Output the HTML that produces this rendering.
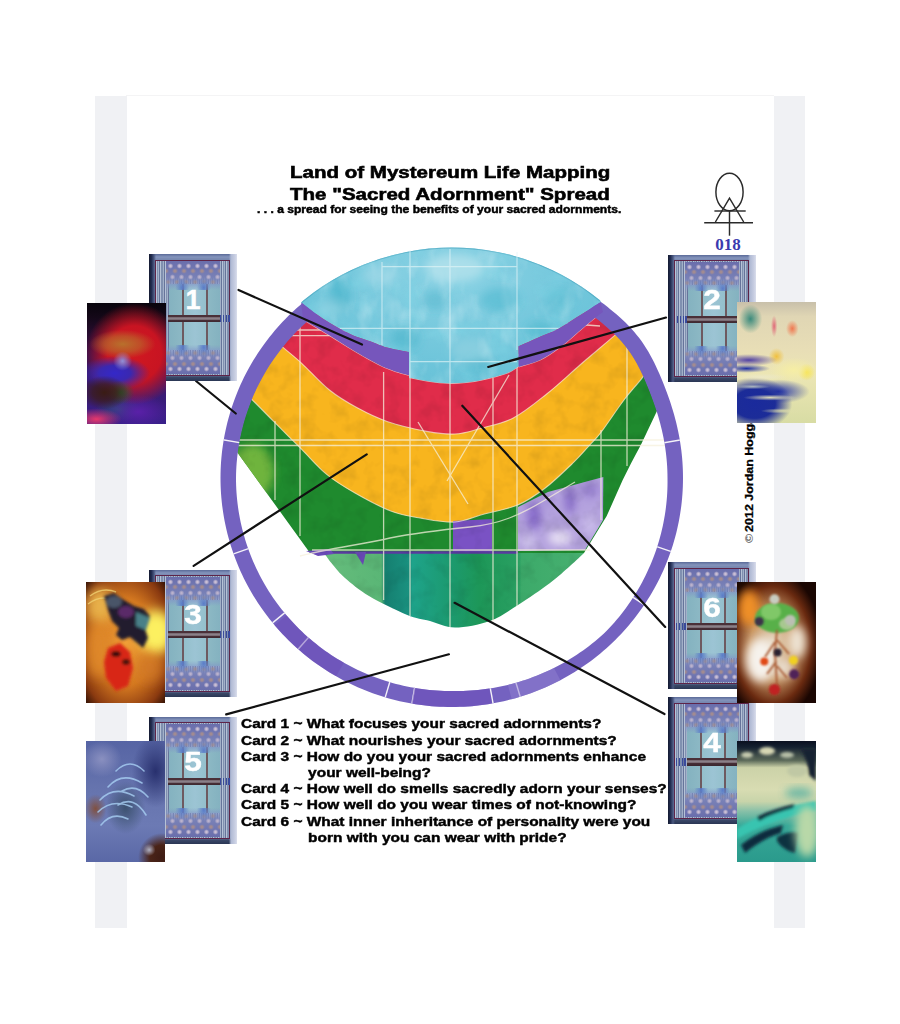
<!DOCTYPE html>
<html><head><meta charset="utf-8">
<style>
*{margin:0;padding:0;box-sizing:border-box}
html,body{width:900px;height:1024px;background:#fff;overflow:hidden;position:relative;font-family:"Liberation Sans",sans-serif}
.abs{position:absolute}
.strip{position:absolute;top:95.5px;height:832.8px;width:31.3px;background:#f0f1f4}
#art{position:absolute;left:0;top:0;width:900px;height:1024px}
.t1{position:absolute;font-weight:bold;color:#000;white-space:nowrap;-webkit-text-stroke:0.6px #000}
.q{position:absolute;left:240.5px;top:716.4px;font-weight:bold;font-size:13.5px;line-height:16.2px;color:#000;-webkit-text-stroke:0.45px #000;white-space:pre;transform-origin:0 0;transform:scaleX(1.145)}
.q .ind{padding-left:58.6px}
.cb{position:absolute;width:88px;height:127px;overflow:hidden;
 background:linear-gradient(90deg,#141a30 0,#222c50 2.5px,#4a5880 5px,rgba(120,136,176,0) 7px,rgba(120,136,176,0) 80px,#b0bad4 82px,#c8cee2 86px,#dadeec 88px),
 linear-gradient(180deg,#5a6a98 0,#8494bc 3px,#7888b0 5px,#7888b0 121px,#3a4868 123px,#2a3654 127px)}
.cb .fr{position:absolute;left:6px;top:5.5px;width:75px;height:116.5px;border:1.6px solid #5e2448;
 background:repeating-linear-gradient(90deg,#b6c2d6 0,#b6c2d6 1px,#8090b0 1px,#8090b0 2.3px,#a2b0c8 2.3px,#a2b0c8 3.4px,#66749a 3.4px,#66749a 4.4px)}
.cb .mid{position:absolute;left:19.5px;width:51px;top:30px;height:66px;
 background:linear-gradient(90deg,#84b2c0 0,#8cb8c4 12.8px,#6e5a60 12.8px,#6e5a60 14.8px,#94c0cc 15px,#9cc4d4 26px,#94c0cc 37px,#6e5a60 37.3px,#6e5a60 39.3px,#8cb8c4 39.5px,#84b2c0 51px)}
.cb .orn{position:absolute;left:17px;width:54px;height:29px;
 background:radial-gradient(ellipse 7px 9px at 30% 92%,#5a7cc8 0,rgba(90,124,200,0) 100%),radial-gradient(ellipse 7px 9px at 70% 92%,#5a7cc8 0,rgba(90,124,200,0) 100%),
 radial-gradient(circle at 50% 50%,rgba(226,210,222,0.9) 0,rgba(226,210,222,0.6) 1.4px,rgba(226,210,222,0) 2.8px) 0 1px/9px 8px repeat-x,
 radial-gradient(circle at 50% 50%,rgba(180,146,132,0.9) 0,rgba(180,146,132,0.6) 1.4px,rgba(180,146,132,0) 2.8px) 4.5px 6px/9px 8px repeat-x,
 radial-gradient(circle at 50% 50%,rgba(216,200,214,0.8) 0,rgba(216,200,214,0.5) 1.4px,rgba(216,200,214,0) 2.8px) 2px 12px/9px 8px repeat-x,
 radial-gradient(circle at 50% 50%,rgba(170,140,130,0.7) 0,rgba(170,140,130,0.4) 1.4px,rgba(170,140,130,0) 2.8px) 6.5px 17px/9px 8px repeat-x,
 linear-gradient(180deg,#6a6eac 0,#7880b6 55%,rgba(130,148,200,0.6) 82%,rgba(130,148,200,0) 100%)}
.cb .orn.top{top:7px}
.cb .orn.bot{top:91px;transform:scaleY(-1)}
.cb .bar{position:absolute;left:19.4px;width:51.2px;top:61.3px;height:7.2px;
 background:linear-gradient(180deg,#4a3038 0,#4a3038 2.2px,#8a8088 2.6px,#8a8088 4.4px,#4a3038 4.8px,#3c2830 7.2px)}
.cb .dots{position:absolute;left:70.6px;width:10px;top:61.3px;height:7.2px;
 background:repeating-linear-gradient(90deg,#3a4a9c 0,#3a4a9c 1.2px,rgba(0,0,0,0) 1.2px,rgba(0,0,0,0) 2.8px)}
.cb .n{position:absolute;left:0;right:0;top:29.6px;text-align:center;color:#fff;font-weight:bold;font-size:27px;line-height:32px;-webkit-text-stroke:0.4px #fff;transform:scaleX(1.17)}
.ci{position:absolute;width:79px;height:121px;overflow:hidden}
</style></head><body>
<div class="abs" style="left:126px;top:95px;width:648px;height:1px;background:#f4f4f5"></div>
<div class="strip" style="left:95.3px"></div>
<div class="strip" style="left:773.5px"></div>

<svg id="art" viewBox="0 0 900 1024">
 <g id="mandala"><defs>
<clipPath id="cin"><path d="M668.10 478.00 L668.09 485.48 L667.81 492.95 L667.27 500.42 L666.47 507.86 L665.40 515.28 L664.08 522.66 L662.49 530.00 L660.64 537.28 L658.54 544.49 L656.18 551.64 L653.57 558.70 L650.71 565.67 L647.62 572.55 L644.30 579.32 L640.74 585.99 L636.94 592.53 L632.92 598.94 L628.66 605.21 L624.19 611.34 L619.49 617.31 L614.59 623.12 L609.48 628.76 L604.07 634.11 L598.37 639.17 L592.50 644.02 L586.47 648.66 L580.28 653.09 L573.95 657.30 L567.47 661.28 L560.86 665.04 L554.13 668.56 L547.28 671.85 L540.33 674.89 L533.27 677.68 L526.12 680.22 L518.90 682.52 L511.60 684.56 L504.24 686.34 L496.83 687.87 L489.37 689.14 L481.88 690.16 L474.36 690.91 L466.83 691.40 L459.29 691.63 L451.75 691.60 L444.22 691.49 L436.69 691.12 L429.18 690.50 L421.70 689.61 L414.25 688.46 L406.84 687.06 L399.49 685.41 L392.20 683.50 L384.99 681.34 L377.85 678.93 L370.80 676.27 L363.85 673.38 L357.00 670.24 L350.27 666.87 L343.66 663.27 L337.18 659.44 L330.84 655.40 L324.64 651.13 L318.60 646.65 L312.72 641.97 L307.01 637.08 L301.47 632.00 L296.12 626.73 L290.97 621.26 L286.02 615.62 L281.26 609.81 L276.72 603.84 L272.39 597.72 L268.27 591.46 L264.39 585.05 L260.72 578.51 L257.30 571.86 L254.10 565.08 L251.15 558.20 L248.45 551.23 L245.99 544.16 L243.78 537.01 L241.83 529.80 L240.13 522.51 L238.69 515.18 L237.51 507.80 L236.59 500.38 L235.93 492.93 L235.53 485.47 L235.40 478.00 L235.59 470.53 L236.05 463.07 L236.76 455.64 L237.74 448.24 L238.98 440.87 L240.48 433.56 L242.23 426.31 L244.24 419.12 L246.50 412.01 L249.01 404.98 L251.77 398.04 L254.76 391.21 L258.00 384.49 L261.47 377.88 L265.16 371.40 L269.09 365.05 L273.23 358.85 L277.59 352.79 L282.16 346.89 L286.94 341.15 L291.91 335.58 L297.07 330.19 L302.42 324.98 L307.95 319.96 L313.65 315.14 L319.44 310.43 L325.41 305.92 L331.52 301.62 L337.79 297.54 L344.20 293.67 L350.74 290.02 L357.41 286.60 L364.20 283.41 L371.10 280.46 L378.10 277.75 L385.19 275.28 L392.36 273.06 L399.62 271.08 L406.93 269.36 L414.31 267.89 L421.74 266.68 L429.20 265.72 L436.70 265.02 L444.22 264.58 L451.75 264.40 L459.28 264.53 L466.81 264.92 L474.31 265.57 L481.79 266.48 L489.23 267.65 L496.63 269.07 L503.97 270.74 L511.25 272.67 L518.45 274.85 L525.58 277.28 L532.61 279.95 L539.55 282.86 L546.38 286.01 L553.09 289.38 L559.70 292.98 L566.18 296.78 L572.55 300.77 L578.81 304.93 L584.98 309.25 L591.05 313.71 L597.04 318.31 L602.94 323.06 L608.70 328.00 L614.27 333.17 L619.59 338.61 L624.60 344.34 L629.23 350.38 L633.45 356.70 L637.30 363.25 L640.81 369.97 L644.05 376.81 L647.07 383.72 L649.91 390.69 L652.60 397.70 L655.12 404.75 L657.47 411.85 L659.61 419.02 L661.55 426.24 L663.25 433.51 L664.70 440.84 L665.90 448.22 L666.84 455.63 L667.52 463.07 L667.94 470.53 Z"/></clipPath>
<clipPath id="cring"><path d="M315.82 292.74 L312.58 295.11 L309.38 297.55 L306.22 300.03 L303.11 302.58 L300.04 305.17 L297.01 307.82 L294.04 310.52 L291.11 313.27 L288.23 316.07 L285.40 318.92 L282.62 321.82 L279.90 324.77 L277.22 327.76 L274.60 330.80 L272.03 333.89 L269.52 337.01 L267.07 340.18 L264.66 343.40 L262.32 346.65 L260.04 349.94 L257.81 353.28 L255.64 356.65 L253.53 360.06 L251.48 363.50 L249.49 366.98 L247.57 370.49 L245.70 374.04 L243.90 377.61 L242.17 381.22 L240.49 384.86 L238.88 388.52 L237.34 392.22 L235.86 395.93 L234.45 399.68 L233.10 403.44 L231.82 407.24 L230.60 411.05 L229.46 414.88 L228.38 418.73 L227.37 422.60 L226.43 426.49 L225.55 430.39 L224.75 434.30 L224.01 438.23 L223.35 442.18 L222.75 446.13 L222.22 450.09 L221.77 454.06 L221.38 458.04 L221.06 462.03 L220.82 466.02 L220.64 470.01 L220.54 474.00 L220.50 478.00 L220.54 482.00 L220.64 485.99 L220.82 489.98 L221.06 493.97 L221.38 497.96 L221.77 501.94 L222.22 505.91 L222.75 509.87 L223.35 513.82 L224.01 517.77 L224.75 521.70 L225.55 525.61 L226.43 529.51 L227.37 533.40 L228.38 537.27 L229.46 541.12 L230.60 544.95 L231.82 548.76 L233.10 552.56 L234.45 556.32 L235.86 560.07 L237.34 563.78 L238.88 567.48 L240.49 571.14 L242.17 574.78 L243.90 578.39 L245.70 581.96 L247.57 585.51 L249.49 589.02 L251.48 592.50 L253.53 595.94 L255.64 599.35 L257.81 602.72 L260.04 606.06 L262.32 609.35 L264.66 612.60 L267.07 615.82 L269.52 618.99 L272.03 622.11 L274.60 625.20 L277.22 628.24 L279.90 631.23 L282.62 634.18 L285.40 637.08 L288.23 639.93 L291.11 642.73 L294.04 645.48 L297.01 648.18 L300.04 650.83 L303.11 653.42 L306.22 655.97 L309.38 658.45 L312.58 660.89 L315.82 663.26 L319.11 665.59 L322.44 667.85 L325.80 670.06 L329.21 672.20 L332.65 674.29 L336.13 676.32 L339.64 678.29 L343.18 680.19 L346.76 682.04 L350.38 683.82 L354.02 685.54 L357.69 687.20 L361.39 688.80 L365.12 690.33 L368.88 691.79 L372.66 693.19 L376.46 694.52 L380.29 695.79 L384.14 696.99 L388.01 698.13 L391.90 699.20 L395.81 700.20 L399.73 701.13 L403.67 702.00 L407.63 702.79 L411.59 703.52 L415.57 704.18 L419.57 704.77 L423.57 705.29 L427.58 705.75 L431.60 706.13 L435.62 706.44 L439.65 706.69 L443.68 706.86 L447.71 706.97 L451.75 707.00 L455.79 706.97 L459.82 706.86 L463.85 706.69 L467.88 706.44 L471.90 706.13 L475.92 705.75 L479.93 705.29 L483.93 704.77 L487.93 704.18 L491.91 703.52 L495.87 702.79 L499.83 702.00 L503.77 701.13 L507.69 700.20 L511.60 699.20 L515.49 698.13 L519.36 696.99 L523.21 695.79 L527.04 694.52 L530.84 693.19 L534.62 691.79 L538.38 690.33 L542.11 688.80 L545.81 687.20 L549.48 685.54 L553.12 683.82 L556.74 682.04 L560.32 680.19 L563.86 678.29 L567.38 676.32 L570.85 674.29 L574.29 672.20 L577.70 670.06 L581.06 667.85 L584.39 665.59 L587.68 663.26 L590.92 660.89 L594.12 658.45 L597.28 655.97 L600.39 653.42 L603.46 650.83 L606.49 648.18 L609.46 645.48 L612.39 642.73 L615.27 639.93 L618.10 637.08 L620.88 634.18 L623.60 631.23 L626.28 628.24 L628.90 625.20 L631.47 622.11 L633.98 618.99 L636.43 615.82 L638.84 612.60 L641.18 609.35 L643.46 606.06 L645.69 602.72 L647.86 599.35 L649.97 595.94 L652.02 592.50 L654.01 589.02 L655.93 585.51 L657.80 581.96 L659.60 578.39 L661.33 574.78 L663.01 571.14 L664.62 567.48 L666.16 563.78 L667.64 560.07 L669.05 556.32 L670.40 552.56 L671.68 548.76 L672.90 544.95 L674.04 541.12 L675.12 537.27 L676.13 533.40 L677.07 529.51 L677.95 525.61 L678.75 521.70 L679.49 517.77 L680.15 513.82 L680.75 509.87 L681.28 505.91 L681.73 501.94 L682.12 497.96 L682.44 493.97 L682.68 489.98 L682.86 485.99 L682.96 482.00 L683.00 478.00 L682.96 474.00 L682.86 470.01 L682.68 466.02 L682.44 462.03 L682.12 458.04 L681.73 454.06 L681.28 450.09 L680.75 446.13 L680.16 442.18 L679.50 438.23 L678.76 434.30 L677.97 430.38 L677.10 426.48 L676.17 422.59 L675.18 418.71 L674.13 414.85 L673.02 411.01 L671.85 407.18 L670.63 403.37 L669.36 399.57 L668.03 395.78 L666.67 392.01 L665.25 388.25 L663.80 384.51 L662.30 380.77 L660.75 377.05 L659.16 373.34 L657.51 369.65 L655.81 365.98 L654.04 362.33 L652.20 358.72 L650.28 355.14 L648.26 351.61 L646.16 348.13 L643.95 344.71 L641.64 341.36 L639.23 338.08 L636.71 334.88 L634.10 331.75 L631.39 328.71 L628.59 325.75 L625.72 322.86 L622.78 320.05 L619.78 317.30 L616.73 314.61 L613.63 311.98 L610.51 309.40 L607.35 306.86 L604.16 304.37 L600.95 301.91 L597.72 299.50 L594.46 297.12 L591.17 294.78 L587.86 292.48 L578.46 305.42 L581.54 307.55 L584.61 309.72 L587.65 311.93 L590.67 314.17 L593.67 316.44 L596.64 318.75 L599.59 321.10 L602.52 323.49 L605.41 325.93 L608.27 328.42 L611.07 330.96 L613.83 333.57 L616.52 336.25 L619.13 339.00 L621.67 341.82 L624.12 344.71 L626.48 347.68 L628.74 350.73 L630.90 353.85 L632.96 357.03 L634.92 360.27 L636.79 363.57 L638.58 366.90 L640.29 370.27 L641.94 373.67 L643.52 377.09 L645.05 380.53 L646.53 383.99 L647.97 387.45 L649.36 390.93 L650.72 394.42 L652.04 397.92 L653.32 401.43 L654.56 404.95 L655.75 408.49 L656.89 412.04 L657.99 415.60 L659.04 419.18 L660.03 422.77 L660.96 426.38 L661.84 430.00 L662.66 433.64 L663.41 437.29 L664.11 440.95 L664.74 444.62 L665.30 448.30 L665.81 451.99 L666.24 455.69 L666.62 459.40 L666.92 463.11 L667.17 466.83 L667.34 470.55 L667.45 474.27 L667.50 478.00 L667.53 481.73 L667.49 485.46 L667.38 489.18 L667.21 492.91 L666.98 496.63 L666.68 500.35 L666.31 504.07 L665.88 507.78 L665.38 511.48 L664.81 515.18 L664.18 518.86 L663.49 522.54 L662.73 526.20 L661.91 529.85 L661.02 533.49 L660.07 537.11 L659.05 540.72 L657.97 544.31 L656.82 547.88 L655.62 551.43 L654.35 554.96 L653.01 558.47 L651.62 561.96 L650.16 565.42 L648.65 568.86 L647.08 572.28 L645.45 575.68 L643.77 579.04 L642.02 582.38 L640.22 585.69 L638.36 588.96 L636.43 592.21 L634.45 595.42 L632.42 598.60 L630.33 601.75 L628.18 604.86 L625.97 607.93 L623.71 610.97 L621.40 613.96 L619.03 616.92 L616.62 619.84 L614.15 622.72 L611.62 625.55 L609.05 628.34 L606.43 631.09 L603.65 633.68 L600.83 636.23 L597.97 638.72 L595.07 641.17 L592.12 643.56 L589.13 645.90 L586.10 648.19 L583.04 650.43 L579.93 652.61 L576.79 654.73 L573.61 656.80 L570.40 658.82 L567.15 660.78 L563.87 662.68 L560.56 664.52 L557.22 666.31 L553.85 668.03 L550.45 669.70 L547.02 671.31 L543.56 672.86 L540.08 674.34 L536.57 675.76 L533.04 677.12 L529.49 678.42 L525.92 679.66 L522.32 680.83 L518.71 681.94 L515.08 682.99 L511.43 683.98 L507.77 684.90 L504.09 685.76 L500.40 686.55 L496.70 687.28 L492.99 687.95 L489.27 688.55 L485.54 689.09 L481.80 689.56 L478.05 689.97 L474.30 690.31 L470.55 690.59 L466.79 690.80 L463.03 690.95 L459.27 691.03 L455.51 691.05 L451.75 691.00 L447.99 690.98 L444.24 690.89 L440.48 690.74 L436.73 690.53 L432.98 690.24 L429.24 689.90 L425.51 689.49 L421.78 689.02 L418.06 688.48 L414.35 687.87 L410.66 687.21 L406.97 686.48 L403.30 685.68 L399.64 684.82 L396.00 683.90 L392.37 682.92 L388.76 681.87 L385.17 680.77 L381.60 679.60 L378.05 678.36 L374.53 677.07 L371.02 675.72 L367.55 674.30 L364.09 672.83 L360.66 671.30 L357.26 669.70 L353.89 668.05 L350.55 666.34 L347.24 664.58 L343.96 662.75 L340.71 660.87 L337.50 658.94 L334.32 656.94 L331.17 654.90 L328.06 652.80 L324.99 650.64 L321.96 648.44 L318.97 646.18 L316.02 643.87 L313.10 641.51 L310.23 639.10 L307.41 636.64 L304.62 634.13 L301.89 631.57 L299.19 628.97 L296.55 626.31 L293.96 623.61 L291.42 620.86 L288.92 618.07 L286.48 615.24 L284.08 612.36 L281.74 609.44 L279.44 606.49 L277.20 603.49 L275.02 600.46 L272.89 597.39 L270.81 594.28 L268.78 591.14 L266.82 587.96 L264.91 584.75 L263.05 581.51 L261.25 578.23 L259.52 574.93 L257.84 571.59 L256.21 568.23 L254.65 564.84 L253.15 561.42 L251.71 557.98 L250.33 554.51 L249.01 551.02 L247.75 547.51 L246.56 543.98 L245.43 540.42 L244.36 536.85 L243.35 533.26 L242.41 529.65 L241.53 526.03 L240.71 522.39 L239.96 518.74 L239.28 515.07 L238.66 511.40 L238.10 507.71 L237.61 504.02 L237.18 500.32 L236.82 496.61 L236.53 492.89 L236.30 489.17 L236.13 485.45 L236.03 481.73 L236.00 478.00 L236.06 474.27 L236.19 470.55 L236.39 466.83 L236.65 463.12 L236.97 459.41 L237.36 455.70 L237.82 452.01 L238.34 448.32 L238.92 444.64 L239.57 440.98 L240.29 437.33 L241.07 433.69 L241.91 430.06 L242.82 426.45 L243.79 422.86 L244.82 419.28 L245.91 415.73 L247.07 412.19 L248.29 408.68 L249.58 405.18 L250.92 401.71 L252.32 398.27 L253.79 394.85 L255.31 391.45 L256.89 388.09 L258.54 384.75 L260.24 381.44 L262.00 378.16 L263.81 374.91 L265.68 371.70 L267.61 368.52 L269.60 365.37 L271.64 362.26 L273.73 359.18 L275.88 356.14 L278.08 353.14 L280.33 350.18 L282.64 347.26 L284.99 344.38 L287.40 341.54 L289.85 338.74 L292.35 335.98 L294.90 333.27 L297.50 330.61 L300.15 327.99 L302.84 325.41 L305.57 322.89 L308.35 320.41 L311.17 317.98 L314.03 315.60 L316.90 313.23 L319.81 310.90 L322.77 308.63 L325.76 306.41 Z"/></clipPath>
<clipPath id="cout"><ellipse cx="451.75" cy="478.00" rx="232.50" ry="230.50"/></clipPath>
<radialGradient id="gb1" cx="50%" cy="40%" r="60%"><stop offset="0" stop-color="#8ad2e4"/><stop offset="1" stop-color="#68c2d8"/></radialGradient>
<linearGradient id="gbowl" x1="324" y1="0" x2="584" y2="0" gradientUnits="userSpaceOnUse"><stop offset="0" stop-color="#66bd7c"/><stop offset="0.22" stop-color="#5ab676"/><stop offset="0.235" stop-color="#157f70"/><stop offset="0.33" stop-color="#1a9280"/><stop offset="0.34" stop-color="#1ea38a"/><stop offset="0.48" stop-color="#1c9a70"/><stop offset="0.6" stop-color="#1d9758"/><stop offset="0.75" stop-color="#2aa062"/><stop offset="0.76" stop-color="#3caa6a"/><stop offset="1" stop-color="#48b070"/></linearGradient>
<radialGradient id="glav" cx="0.45" cy="0.6" r="0.7"><stop offset="0" stop-color="#d8ccf0"/><stop offset="0.5" stop-color="#b6a0e2"/><stop offset="1" stop-color="#8a68cc"/></radialGradient>
<filter id="blur2" x="-50%" y="-50%" width="200%" height="200%"><feGaussianBlur stdDeviation="4"/></filter>
<clipPath id="cgreen"><path d="M230 380 L237 452 L310 553 L584 553 L606.7 516 L622.7 480 L630.7 464 L641.3 444 L656 413 L662 400 L690 360 L690 300 L230 300 Z"/></clipPath>
<clipPath id="cblue"><path d="M301.2 302.6 C304.9 305.3 315.2 313.8 323.4 319.0 C331.5 324.2 341.8 330.2 350.1 334.1 C358.4 338.0 367.2 340.3 373.3 342.5 C379.4 344.7 380.8 345.9 386.7 347.5 C392.6 349.1 405.3 351.2 409.0 352.0 L409 377.5 C412.5 378.2 423.5 380.5 430.0 381.5 C436.5 382.5 442.0 383.1 448.0 383.3 C454.0 383.5 460.3 383.1 466.0 382.5 C471.7 381.9 475.2 381.5 482.0 380.0 C488.8 378.5 500.5 375.6 506.7 373.3 C512.9 371.0 517.0 367.2 519.0 366.0 L518.6 346.3 C522.3 344.7 533.9 339.6 540.6 336.6 C547.3 333.7 552.8 331.9 558.9 328.6 C565.0 325.3 571.9 320.4 577.2 317.0 C582.5 313.6 586.8 310.8 590.7 308.4 C594.6 305.9 598.8 303.3 600.4 302.3 L600.4 200 L301.2 200 Z"/></clipPath>
<filter id="blur3" x="-20%" y="-20%" width="140%" height="140%"><feGaussianBlur stdDeviation="5"/></filter>
<clipPath id="clav"><path d="M518 507 L548 492 L603.3 477 L603 520 L585 550 L518 551 Z"/></clipPath>
<filter id="wcb" x="0" y="0" width="100%" height="100%"><feTurbulence type="fractalNoise" baseFrequency="0.035 0.05" numOctaves="3" seed="4"/><feColorMatrix type="matrix" values="0 0 0 0 0.22  0 0 0 0 0.66  0 0 0 0 0.78  2.2 0 0 0 -1.0"/></filter>
<filter id="wcw" x="0" y="0" width="100%" height="100%"><feTurbulence type="fractalNoise" baseFrequency="0.05 0.03" numOctaves="3" seed="9"/><feColorMatrix type="matrix" values="0 0 0 0 0.82  0 0 0 0 0.94  0 0 0 0 0.97  2.0 0 0 0 -0.95"/></filter>
<filter id="wcd" x="0" y="0" width="100%" height="100%"><feTurbulence type="fractalNoise" baseFrequency="0.06" numOctaves="3" seed="2"/><feColorMatrix type="matrix" values="0 0 0 0 0  0 0 0 0 0  0 0 0 0 0  1.6 0 0 0 -0.7"/></filter>
<clipPath id="ccol"><path d="M230 380 L237 452 L310 553 L584 553 L606.7 516 L622.7 480 L630.7 464 L641.3 444 L656 413 L662 400 L690 360 L690 300 L230 300 Z"/><path d="M324 553 C325.5 555.0 329.5 560.8 333.0 565.0 C336.5 569.2 339.0 572.8 345.0 578.0 C351.0 583.2 358.7 589.9 369.0 596.0 C379.3 602.1 396.5 610.5 406.7 614.7 C416.9 618.9 421.9 618.9 430.0 621.0 C438.1 623.1 445.0 627.5 455.0 627.5 C465.0 627.5 479.5 624.8 490.0 621.0 C500.5 617.2 508.0 611.3 518.0 605.0 C528.0 598.7 541.3 589.5 550.0 583.0 C558.7 576.5 564.3 571.0 570.0 566.0 C575.7 561.0 581.7 555.2 584.0 553.0 Z"/></clipPath>
</defs>
<g clip-path="url(#cin)">
<path d="M230 380 L237 452 L310 553 L584 553 L606.7 516 L622.7 480 L630.7 464 L641.3 444 L656 413 L662 400 L690 360 L690 300 L230 300 Z" fill="#1f8a2e"/>
<path d="M240.0 390.0 C241.9 391.6 246.0 394.1 251.7 399.4 C257.3 404.7 265.6 413.4 273.9 421.7 C282.2 430.0 292.9 440.6 301.7 449.4 C310.5 458.2 317.8 467.1 326.7 474.4 C335.6 481.7 344.3 486.9 355.0 493.0 C365.7 499.1 379.9 506.8 390.7 511.0 C401.5 515.2 409.3 516.2 420.0 518.0 C430.7 519.8 444.3 522.7 455.0 522.0 C465.7 521.3 473.9 516.8 484.4 514.0 C494.9 511.2 507.6 509.3 517.8 505.0 C527.9 500.7 536.0 495.1 545.3 488.0 C554.5 480.9 565.7 470.0 573.3 462.7 C580.9 455.4 586.0 449.1 590.7 444.0 C595.4 438.9 595.8 439.3 601.3 432.0 C606.8 424.7 617.2 409.0 624.0 400.0 C630.8 391.0 637.5 384.1 642.2 377.8 C646.9 371.5 650.4 364.6 652.0 362.0 L652.0 200.0 L240.0 200.0 Z" fill="#f8b51e"/>
<path d="M265.0 330.0 C267.6 332.6 274.7 339.8 280.8 345.3 C286.9 350.9 293.6 355.9 301.7 363.3 C309.8 370.8 320.1 382.6 329.4 390.0 C338.6 397.4 347.5 402.5 357.2 407.8 C366.9 413.1 376.2 417.8 387.8 421.7 C399.4 425.6 415.5 429.3 426.7 431.4 C437.9 433.4 446.1 434.5 455.0 434.0 C463.9 433.5 470.3 431.2 480.0 428.5 C489.7 425.8 502.2 423.8 513.3 418.0 C524.4 412.2 535.6 402.8 546.7 394.0 C557.8 385.2 568.9 374.6 580.0 365.0 C591.1 355.4 605.0 343.9 613.3 336.7 C621.6 329.5 627.2 324.4 630.0 322.0 L630.0 200.0 L265.0 200.0 Z" fill="#e02c4a"/>
<path d="M324 553 C325.5 555.0 329.5 560.8 333.0 565.0 C336.5 569.2 339.0 572.8 345.0 578.0 C351.0 583.2 358.7 589.9 369.0 596.0 C379.3 602.1 396.5 610.5 406.7 614.7 C416.9 618.9 421.9 618.9 430.0 621.0 C438.1 623.1 445.0 627.5 455.0 627.5 C465.0 627.5 479.5 624.8 490.0 621.0 C500.5 617.2 508.0 611.3 518.0 605.0 C528.0 598.7 541.3 589.5 550.0 583.0 C558.7 576.5 564.3 571.0 570.0 566.0 C575.7 561.0 581.7 555.2 584.0 553.0 Z" fill="url(#gbowl)"/>
<g clip-path="url(#cgreen)"><ellipse cx="252" cy="472" rx="22" ry="28" fill="#78b840" opacity="0.9" filter="url(#blur2)"/></g>
<path d="M453 521 L492 519 L492 552 L453 552 Z" fill="#7a52c4"/>
<path d="M518 507 L548 492 L603.3 477 L603 520 L585 550 L518 551 Z" fill="#b4a2de"/>
<g clip-path="url(#clav)" filter="url(#blur2)">
<ellipse cx="534" cy="516" rx="7" ry="14" fill="#7858c4" opacity="0.75"/>
<ellipse cx="570" cy="500" rx="5" ry="14" fill="#7454c0" opacity="0.70"/>
<ellipse cx="590" cy="490" rx="10" ry="8" fill="#8a70cc" opacity="0.60"/>
<ellipse cx="560" cy="538" rx="12" ry="7" fill="#ece6f6" opacity="0.90"/>
<ellipse cx="528" cy="542" rx="8" ry="6" fill="#d8d0f0" opacity="0.80"/>
<ellipse cx="590" cy="525" rx="8" ry="10" fill="#d0c4ee" opacity="0.70"/>
<ellipse cx="548" cy="500" rx="6" ry="6" fill="#9a84d4" opacity="0.60"/>
</g>
<path d="M312 552.5 L518 552.5" stroke="#5a3aa0" stroke-width="2.5"/>
<path d="M306 551 L330 549 L334 554 L318 556 Z M355 552 L366 552 L363 565 Z" fill="#6a4ab8"/>
<g fill="none" stroke="#fbeede" stroke-width="1.1" opacity="0.7">
<path d="M265.0 330.0 C267.6 332.6 274.7 339.8 280.8 345.3 C286.9 350.9 293.6 355.9 301.7 363.3 C309.8 370.8 320.1 382.6 329.4 390.0 C338.6 397.4 347.5 402.5 357.2 407.8 C366.9 413.1 376.2 417.8 387.8 421.7 C399.4 425.6 415.5 429.3 426.7 431.4 C437.9 433.4 446.1 434.5 455.0 434.0 C463.9 433.5 470.3 431.2 480.0 428.5 C489.7 425.8 502.2 423.8 513.3 418.0 C524.4 412.2 535.6 402.8 546.7 394.0 C557.8 385.2 568.9 374.6 580.0 365.0 C591.1 355.4 605.0 343.9 613.3 336.7 C621.6 329.5 627.2 324.4 630.0 322.0"/>
<path d="M240.0 390.0 C241.9 391.6 246.0 394.1 251.7 399.4 C257.3 404.7 265.6 413.4 273.9 421.7 C282.2 430.0 292.9 440.6 301.7 449.4 C310.5 458.2 317.8 467.1 326.7 474.4 C335.6 481.7 344.3 486.9 355.0 493.0 C365.7 499.1 379.9 506.8 390.7 511.0 C401.5 515.2 409.3 516.2 420.0 518.0 C430.7 519.8 444.3 522.7 455.0 522.0 C465.7 521.3 473.9 516.8 484.4 514.0 C494.9 511.2 507.6 509.3 517.8 505.0 C527.9 500.7 536.0 495.1 545.3 488.0 C554.5 480.9 565.7 470.0 573.3 462.7 C580.9 455.4 586.0 449.1 590.7 444.0 C595.4 438.9 595.8 439.3 601.3 432.0 C606.8 424.7 617.2 409.0 624.0 400.0 C630.8 391.0 637.5 384.1 642.2 377.8 C646.9 371.5 650.4 364.6 652.0 362.0"/>
<path d="M303.0 319.5 C307.3 322.1 320.5 329.9 328.8 335.0 C337.1 340.1 344.3 345.1 352.8 350.1 C361.3 355.2 373.2 361.9 380.0 365.3 C386.8 368.7 388.5 369.0 393.3 370.7 C398.1 372.4 406.4 374.5 409.0 375.3"/>
<path d="M518.6 367.0 C522.3 365.8 533.5 363.2 540.6 359.8 C547.7 356.4 555.0 351.0 561.3 346.3 C567.6 341.6 573.2 336.2 578.5 331.7 C583.8 327.2 589.0 322.7 593.1 319.4 C597.2 316.1 601.4 313.2 603.0 312.0"/>
<path d="M409.0 377.5 C412.5 378.2 423.5 380.5 430.0 381.5 C436.5 382.5 442.0 383.1 448.0 383.3 C454.0 383.5 460.3 383.1 466.0 382.5 C471.7 381.9 475.2 381.5 482.0 380.0 C488.8 378.5 500.5 375.6 506.7 373.3 C512.9 371.0 517.0 367.2 519.0 366.0"/>
</g>
<g clip-path="url(#ccol)"><rect x="220" y="300" width="470" height="340" filter="url(#wcd)" opacity="0.12"/></g>
<g stroke="#f6f0dc" stroke-width="1.3" opacity="0.75" fill="none"><line x1="300.0" y1="318.0" x2="300.0" y2="536.0"/><line x1="275.0" y1="421.0" x2="275.0" y2="500.0"/><line x1="383.6" y1="372.0" x2="383.6" y2="600.0"/><line x1="410.0" y1="250.0" x2="410.0" y2="616.0"/><line x1="450.0" y1="250.0" x2="450.0" y2="627.0"/><line x1="493.0" y1="378.0" x2="493.0" y2="622.0"/><line x1="517.0" y1="250.0" x2="517.0" y2="606.0"/><line x1="601.0" y1="430.0" x2="601.0" y2="520.0"/><line x1="627.0" y1="330.0" x2="627.0" y2="466.0"/><line x1="382.0" y1="262.0" x2="382.0" y2="345.0"/><line x1="380.0" y1="266.0" x2="520.0" y2="266.0"/><line x1="335.0" y1="331.0" x2="560.0" y2="331.0"/><line x1="410.0" y1="355.0" x2="520.0" y2="355.0"/><line x1="285.0" y1="330.0" x2="332.0" y2="330.0"/><line x1="285.0" y1="335.6" x2="332.0" y2="335.6"/><line x1="200.0" y1="440.0" x2="700.0" y2="440.0"/><line x1="200.0" y1="445.5" x2="700.0" y2="445.5"/><line x1="312.0" y1="550.0" x2="590.0" y2="550.0"/><line x1="418.0" y1="422.0" x2="468.0" y2="504.0"/><line x1="509.0" y1="375.0" x2="447.0" y2="481.0"/><line x1="545.0" y1="322.0" x2="600.0" y2="326.0"/><path d="M300 556 C330 548 360 545 390 538 C420 532 440 530 470 527 C500 524 520 515 545 500 C555 494 565 488 575 482"/></g>
</g>
<path d="M315.82 292.74 L312.58 295.11 L309.38 297.55 L306.22 300.03 L303.11 302.58 L300.04 305.17 L297.01 307.82 L294.04 310.52 L291.11 313.27 L288.23 316.07 L285.40 318.92 L282.62 321.82 L279.90 324.77 L277.22 327.76 L274.60 330.80 L272.03 333.89 L269.52 337.01 L267.07 340.18 L264.66 343.40 L262.32 346.65 L260.04 349.94 L257.81 353.28 L255.64 356.65 L253.53 360.06 L251.48 363.50 L249.49 366.98 L247.57 370.49 L245.70 374.04 L243.90 377.61 L242.17 381.22 L240.49 384.86 L238.88 388.52 L237.34 392.22 L235.86 395.93 L234.45 399.68 L233.10 403.44 L231.82 407.24 L230.60 411.05 L229.46 414.88 L228.38 418.73 L227.37 422.60 L226.43 426.49 L225.55 430.39 L224.75 434.30 L224.01 438.23 L223.35 442.18 L222.75 446.13 L222.22 450.09 L221.77 454.06 L221.38 458.04 L221.06 462.03 L220.82 466.02 L220.64 470.01 L220.54 474.00 L220.50 478.00 L220.54 482.00 L220.64 485.99 L220.82 489.98 L221.06 493.97 L221.38 497.96 L221.77 501.94 L222.22 505.91 L222.75 509.87 L223.35 513.82 L224.01 517.77 L224.75 521.70 L225.55 525.61 L226.43 529.51 L227.37 533.40 L228.38 537.27 L229.46 541.12 L230.60 544.95 L231.82 548.76 L233.10 552.56 L234.45 556.32 L235.86 560.07 L237.34 563.78 L238.88 567.48 L240.49 571.14 L242.17 574.78 L243.90 578.39 L245.70 581.96 L247.57 585.51 L249.49 589.02 L251.48 592.50 L253.53 595.94 L255.64 599.35 L257.81 602.72 L260.04 606.06 L262.32 609.35 L264.66 612.60 L267.07 615.82 L269.52 618.99 L272.03 622.11 L274.60 625.20 L277.22 628.24 L279.90 631.23 L282.62 634.18 L285.40 637.08 L288.23 639.93 L291.11 642.73 L294.04 645.48 L297.01 648.18 L300.04 650.83 L303.11 653.42 L306.22 655.97 L309.38 658.45 L312.58 660.89 L315.82 663.26 L319.11 665.59 L322.44 667.85 L325.80 670.06 L329.21 672.20 L332.65 674.29 L336.13 676.32 L339.64 678.29 L343.18 680.19 L346.76 682.04 L350.38 683.82 L354.02 685.54 L357.69 687.20 L361.39 688.80 L365.12 690.33 L368.88 691.79 L372.66 693.19 L376.46 694.52 L380.29 695.79 L384.14 696.99 L388.01 698.13 L391.90 699.20 L395.81 700.20 L399.73 701.13 L403.67 702.00 L407.63 702.79 L411.59 703.52 L415.57 704.18 L419.57 704.77 L423.57 705.29 L427.58 705.75 L431.60 706.13 L435.62 706.44 L439.65 706.69 L443.68 706.86 L447.71 706.97 L451.75 707.00 L455.79 706.97 L459.82 706.86 L463.85 706.69 L467.88 706.44 L471.90 706.13 L475.92 705.75 L479.93 705.29 L483.93 704.77 L487.93 704.18 L491.91 703.52 L495.87 702.79 L499.83 702.00 L503.77 701.13 L507.69 700.20 L511.60 699.20 L515.49 698.13 L519.36 696.99 L523.21 695.79 L527.04 694.52 L530.84 693.19 L534.62 691.79 L538.38 690.33 L542.11 688.80 L545.81 687.20 L549.48 685.54 L553.12 683.82 L556.74 682.04 L560.32 680.19 L563.86 678.29 L567.38 676.32 L570.85 674.29 L574.29 672.20 L577.70 670.06 L581.06 667.85 L584.39 665.59 L587.68 663.26 L590.92 660.89 L594.12 658.45 L597.28 655.97 L600.39 653.42 L603.46 650.83 L606.49 648.18 L609.46 645.48 L612.39 642.73 L615.27 639.93 L618.10 637.08 L620.88 634.18 L623.60 631.23 L626.28 628.24 L628.90 625.20 L631.47 622.11 L633.98 618.99 L636.43 615.82 L638.84 612.60 L641.18 609.35 L643.46 606.06 L645.69 602.72 L647.86 599.35 L649.97 595.94 L652.02 592.50 L654.01 589.02 L655.93 585.51 L657.80 581.96 L659.60 578.39 L661.33 574.78 L663.01 571.14 L664.62 567.48 L666.16 563.78 L667.64 560.07 L669.05 556.32 L670.40 552.56 L671.68 548.76 L672.90 544.95 L674.04 541.12 L675.12 537.27 L676.13 533.40 L677.07 529.51 L677.95 525.61 L678.75 521.70 L679.49 517.77 L680.15 513.82 L680.75 509.87 L681.28 505.91 L681.73 501.94 L682.12 497.96 L682.44 493.97 L682.68 489.98 L682.86 485.99 L682.96 482.00 L683.00 478.00 L682.96 474.00 L682.86 470.01 L682.68 466.02 L682.44 462.03 L682.12 458.04 L681.73 454.06 L681.28 450.09 L680.75 446.13 L680.16 442.18 L679.50 438.23 L678.76 434.30 L677.97 430.38 L677.10 426.48 L676.17 422.59 L675.18 418.71 L674.13 414.85 L673.02 411.01 L671.85 407.18 L670.63 403.37 L669.36 399.57 L668.03 395.78 L666.67 392.01 L665.25 388.25 L663.80 384.51 L662.30 380.77 L660.75 377.05 L659.16 373.34 L657.51 369.65 L655.81 365.98 L654.04 362.33 L652.20 358.72 L650.28 355.14 L648.26 351.61 L646.16 348.13 L643.95 344.71 L641.64 341.36 L639.23 338.08 L636.71 334.88 L634.10 331.75 L631.39 328.71 L628.59 325.75 L625.72 322.86 L622.78 320.05 L619.78 317.30 L616.73 314.61 L613.63 311.98 L610.51 309.40 L607.35 306.86 L604.16 304.37 L600.95 301.91 L597.72 299.50 L594.46 297.12 L591.17 294.78 L587.86 292.48 L578.46 305.42 L581.54 307.55 L584.61 309.72 L587.65 311.93 L590.67 314.17 L593.67 316.44 L596.64 318.75 L599.59 321.10 L602.52 323.49 L605.41 325.93 L608.27 328.42 L611.07 330.96 L613.83 333.57 L616.52 336.25 L619.13 339.00 L621.67 341.82 L624.12 344.71 L626.48 347.68 L628.74 350.73 L630.90 353.85 L632.96 357.03 L634.92 360.27 L636.79 363.57 L638.58 366.90 L640.29 370.27 L641.94 373.67 L643.52 377.09 L645.05 380.53 L646.53 383.99 L647.97 387.45 L649.36 390.93 L650.72 394.42 L652.04 397.92 L653.32 401.43 L654.56 404.95 L655.75 408.49 L656.89 412.04 L657.99 415.60 L659.04 419.18 L660.03 422.77 L660.96 426.38 L661.84 430.00 L662.66 433.64 L663.41 437.29 L664.11 440.95 L664.74 444.62 L665.30 448.30 L665.81 451.99 L666.24 455.69 L666.62 459.40 L666.92 463.11 L667.17 466.83 L667.34 470.55 L667.45 474.27 L667.50 478.00 L667.53 481.73 L667.49 485.46 L667.38 489.18 L667.21 492.91 L666.98 496.63 L666.68 500.35 L666.31 504.07 L665.88 507.78 L665.38 511.48 L664.81 515.18 L664.18 518.86 L663.49 522.54 L662.73 526.20 L661.91 529.85 L661.02 533.49 L660.07 537.11 L659.05 540.72 L657.97 544.31 L656.82 547.88 L655.62 551.43 L654.35 554.96 L653.01 558.47 L651.62 561.96 L650.16 565.42 L648.65 568.86 L647.08 572.28 L645.45 575.68 L643.77 579.04 L642.02 582.38 L640.22 585.69 L638.36 588.96 L636.43 592.21 L634.45 595.42 L632.42 598.60 L630.33 601.75 L628.18 604.86 L625.97 607.93 L623.71 610.97 L621.40 613.96 L619.03 616.92 L616.62 619.84 L614.15 622.72 L611.62 625.55 L609.05 628.34 L606.43 631.09 L603.65 633.68 L600.83 636.23 L597.97 638.72 L595.07 641.17 L592.12 643.56 L589.13 645.90 L586.10 648.19 L583.04 650.43 L579.93 652.61 L576.79 654.73 L573.61 656.80 L570.40 658.82 L567.15 660.78 L563.87 662.68 L560.56 664.52 L557.22 666.31 L553.85 668.03 L550.45 669.70 L547.02 671.31 L543.56 672.86 L540.08 674.34 L536.57 675.76 L533.04 677.12 L529.49 678.42 L525.92 679.66 L522.32 680.83 L518.71 681.94 L515.08 682.99 L511.43 683.98 L507.77 684.90 L504.09 685.76 L500.40 686.55 L496.70 687.28 L492.99 687.95 L489.27 688.55 L485.54 689.09 L481.80 689.56 L478.05 689.97 L474.30 690.31 L470.55 690.59 L466.79 690.80 L463.03 690.95 L459.27 691.03 L455.51 691.05 L451.75 691.00 L447.99 690.98 L444.24 690.89 L440.48 690.74 L436.73 690.53 L432.98 690.24 L429.24 689.90 L425.51 689.49 L421.78 689.02 L418.06 688.48 L414.35 687.87 L410.66 687.21 L406.97 686.48 L403.30 685.68 L399.64 684.82 L396.00 683.90 L392.37 682.92 L388.76 681.87 L385.17 680.77 L381.60 679.60 L378.05 678.36 L374.53 677.07 L371.02 675.72 L367.55 674.30 L364.09 672.83 L360.66 671.30 L357.26 669.70 L353.89 668.05 L350.55 666.34 L347.24 664.58 L343.96 662.75 L340.71 660.87 L337.50 658.94 L334.32 656.94 L331.17 654.90 L328.06 652.80 L324.99 650.64 L321.96 648.44 L318.97 646.18 L316.02 643.87 L313.10 641.51 L310.23 639.10 L307.41 636.64 L304.62 634.13 L301.89 631.57 L299.19 628.97 L296.55 626.31 L293.96 623.61 L291.42 620.86 L288.92 618.07 L286.48 615.24 L284.08 612.36 L281.74 609.44 L279.44 606.49 L277.20 603.49 L275.02 600.46 L272.89 597.39 L270.81 594.28 L268.78 591.14 L266.82 587.96 L264.91 584.75 L263.05 581.51 L261.25 578.23 L259.52 574.93 L257.84 571.59 L256.21 568.23 L254.65 564.84 L253.15 561.42 L251.71 557.98 L250.33 554.51 L249.01 551.02 L247.75 547.51 L246.56 543.98 L245.43 540.42 L244.36 536.85 L243.35 533.26 L242.41 529.65 L241.53 526.03 L240.71 522.39 L239.96 518.74 L239.28 515.07 L238.66 511.40 L238.10 507.71 L237.61 504.02 L237.18 500.32 L236.82 496.61 L236.53 492.89 L236.30 489.17 L236.13 485.45 L236.03 481.73 L236.00 478.00 L236.06 474.27 L236.19 470.55 L236.39 466.83 L236.65 463.12 L236.97 459.41 L237.36 455.70 L237.82 452.01 L238.34 448.32 L238.92 444.64 L239.57 440.98 L240.29 437.33 L241.07 433.69 L241.91 430.06 L242.82 426.45 L243.79 422.86 L244.82 419.28 L245.91 415.73 L247.07 412.19 L248.29 408.68 L249.58 405.18 L250.92 401.71 L252.32 398.27 L253.79 394.85 L255.31 391.45 L256.89 388.09 L258.54 384.75 L260.24 381.44 L262.00 378.16 L263.81 374.91 L265.68 371.70 L267.61 368.52 L269.60 365.37 L271.64 362.26 L273.73 359.18 L275.88 356.14 L278.08 353.14 L280.33 350.18 L282.64 347.26 L284.99 344.38 L287.40 341.54 L289.85 338.74 L292.35 335.98 L294.90 333.27 L297.50 330.61 L300.15 327.99 L302.84 325.41 L305.57 322.89 L308.35 320.41 L311.17 317.98 L314.03 315.60 L316.90 313.23 L319.81 310.90 L322.77 308.63 L325.76 306.41 Z" fill="#7462c0"/>
<g clip-path="url(#cring)">
<line x1="254.1" y1="546.6" x2="227.9" y2="555.9" stroke="#f4f2f8" stroke-width="1.4"/>
<line x1="289.5" y1="608.9" x2="268.0" y2="626.6" stroke="#f4f2f8" stroke-width="1.4"/>
<line x1="312.6" y1="632.8" x2="294.2" y2="653.7" stroke="#f4f2f8" stroke-width="1.4"/>
<line x1="391.5" y1="676.3" x2="383.5" y2="703.1" stroke="#f4f2f8" stroke-width="1.4"/>
<line x1="415.7" y1="681.9" x2="410.9" y2="709.5" stroke="#f4f2f8" stroke-width="1.4"/>
<line x1="489.1" y1="681.7" x2="494.1" y2="709.2" stroke="#f4f2f8" stroke-width="1.4"/>
<line x1="513.8" y1="675.7" x2="522.0" y2="702.5" stroke="#f4f2f8" stroke-width="1.4"/>
<line x1="650.2" y1="544.3" x2="676.5" y2="553.3" stroke="#f4f2f8" stroke-width="1.4"/>
<line x1="626.1" y1="592.7" x2="649.2" y2="608.2" stroke="#f4f2f8" stroke-width="1.4"/>
<line x1="245.2" y1="443.6" x2="217.8" y2="438.9" stroke="#f4f2f8" stroke-width="1.4"/>
<line x1="658.3" y1="443.7" x2="685.7" y2="439.0" stroke="#f4f2f8" stroke-width="1.4"/>
<path d="M413.0 695.6 A223.38 221.00 0 0 0 490.5 695.6" fill="none" stroke="#6c4cb8" stroke-width="23.8" opacity="0.55"/>
<path d="M509.6 691.5 A223.38 221.00 0 0 0 556.6 673.1" fill="none" stroke="#9080d0" stroke-width="23.8" opacity="0.5"/>
<path d="M280.6 620.1 A223.38 221.00 0 0 0 340.1 669.4" fill="none" stroke="#6a4ab6" stroke-width="23.8" opacity="0.45"/>
</g>
<g clip-path="url(#cout)">
<path d="M301.2 302.6 C304.9 305.3 315.2 313.8 323.4 319.0 C331.5 324.2 341.8 330.2 350.1 334.1 C358.4 338.0 367.2 340.3 373.3 342.5 C379.4 344.7 380.8 345.9 386.7 347.5 C392.6 349.1 405.3 351.2 409.0 352.0 L409 377.5 C412.5 378.2 423.5 380.5 430.0 381.5 C436.5 382.5 442.0 383.1 448.0 383.3 C454.0 383.5 460.3 383.1 466.0 382.5 C471.7 381.9 475.2 381.5 482.0 380.0 C488.8 378.5 500.5 375.6 506.7 373.3 C512.9 371.0 517.0 367.2 519.0 366.0 L518.6 346.3 C522.3 344.7 533.9 339.6 540.6 336.6 C547.3 333.7 552.8 331.9 558.9 328.6 C565.0 325.3 571.9 320.4 577.2 317.0 C582.5 313.6 586.8 310.8 590.7 308.4 C594.6 305.9 598.8 303.3 600.4 302.3 L600.4 200 L301.2 200 Z" fill="url(#gb1)"/>
<ellipse cx="451.75" cy="478.00" rx="232.30" ry="230.30" fill="none" stroke="#4aa6c0" stroke-width="1.6" opacity="0.7" clip-path="url(#cblue)"/>
<g clip-path="url(#cblue)"><rect x="290" y="240" width="320" height="150" filter="url(#wcb)" opacity="0.6"/><rect x="290" y="240" width="320" height="150" filter="url(#wcw)" opacity="0.38"/></g>
<g clip-path="url(#cblue)" filter="url(#blur3)">
<ellipse cx="340" cy="295" rx="10" ry="18" fill="#3aaec6" opacity="0.55"/>
<ellipse cx="405" cy="338" rx="14" ry="12" fill="#3aaec6" opacity="0.45"/>
<ellipse cx="500" cy="300" rx="20" ry="12" fill="#40b2ca" opacity="0.45"/>
<ellipse cx="435" cy="300" rx="12" ry="10" fill="#3aaac4" opacity="0.35"/>
<ellipse cx="560" cy="300" rx="14" ry="12" fill="#48b4cc" opacity="0.35"/>
<ellipse cx="480" cy="365" rx="16" ry="8" fill="#3aaec6" opacity="0.35"/>
<ellipse cx="455" cy="268" rx="30" ry="14" fill="#b4e2ec" opacity="0.80"/>
<ellipse cx="380" cy="275" rx="18" ry="10" fill="#a8dcea" opacity="0.60"/>
<ellipse cx="470" cy="350" rx="20" ry="12" fill="#9cd6e4" opacity="0.50"/>
<ellipse cx="540" cy="330" rx="14" ry="8" fill="#3aaec6" opacity="0.40"/>
<ellipse cx="330" cy="308" rx="14" ry="8" fill="#a0dae8" opacity="0.50"/>
</g>
</g>
<g clip-path="url(#cblue)" stroke="#e4f6f8" stroke-width="1.2" opacity="0.65">
<line x1="382.0" y1="262.0" x2="382.0" y2="345.0"/>
<line x1="410.0" y1="250.0" x2="410.0" y2="380.0"/>
<line x1="450.0" y1="249.0" x2="450.0" y2="386.0"/>
<line x1="517.0" y1="252.0" x2="517.0" y2="350.0"/>
<line x1="382.0" y1="266.7" x2="517.0" y2="266.7"/>
<line x1="330.0" y1="328.3" x2="575.0" y2="328.3"/>
<line x1="410.0" y1="361.7" x2="517.0" y2="361.7"/>
</g>
<path d="M301.2 302.6 C304.9 305.3 315.2 313.8 323.4 319.0 C331.5 324.2 341.8 330.2 350.1 334.1 C358.4 338.0 367.2 340.3 373.3 342.5 C379.4 344.7 380.8 345.9 386.7 347.5 C392.6 349.1 405.3 351.2 409.0 352.0 L409.0 375.3 C406.4 374.5 398.1 372.4 393.3 370.7 C388.5 369.0 386.8 368.7 380.0 365.3 C373.2 361.9 361.3 355.2 352.8 350.1 C344.3 345.1 337.1 340.1 328.8 335.0 C320.5 329.9 307.3 322.1 303.0 319.5 Z" fill="#7656bc"/>
<path d="M518.6 346.3 C522.3 344.7 533.9 339.6 540.6 336.6 C547.3 333.7 552.8 331.9 558.9 328.6 C565.0 325.3 571.9 320.4 577.2 317.0 C582.5 313.6 586.8 310.8 590.7 308.4 C594.6 305.9 598.8 303.3 600.4 302.3 L603.0 312.0 C601.4 313.2 597.2 316.1 593.1 319.4 C589.0 322.7 583.8 327.2 578.5 331.7 C573.2 336.2 567.6 341.6 561.3 346.3 C555.0 351.0 547.7 356.4 540.6 359.8 C533.5 363.2 522.3 365.8 518.6 367.0 Z" fill="#7656bc"/></g>
 <g stroke="#111" stroke-width="2.2" stroke-linecap="round">
  <line x1="238.5" y1="290" x2="362" y2="344.6"/>
  <line x1="196" y1="381" x2="235.8" y2="413.5"/>
  <line x1="666" y1="317.5" x2="488.2" y2="367"/>
  <line x1="193.6" y1="565.8" x2="366.7" y2="454.3"/>
  <line x1="462.3" y1="405.7" x2="665.2" y2="626.9"/>
  <line x1="454.6" y1="602.8" x2="664.5" y2="714"/>
  <line x1="448.9" y1="654.3" x2="226.2" y2="714.4"/>
 </g>
 <g stroke="#2a2a2a" stroke-width="1.45" fill="none">
  <ellipse cx="729.5" cy="192" rx="13.6" ry="18.8"/>
  <path d="M715.4 222 L729.5 198.1 L743.7 222"/>
  <line x1="714.4" y1="211" x2="745.7" y2="211"/>
  <line x1="704.2" y1="222.8" x2="753" y2="222.8"/>
  <line x1="729.5" y1="211" x2="729.5" y2="235.7"/>
 </g>
</svg>
<div class="abs" style="left:715.2px;top:234.6px;font-family:'Liberation Serif',serif;font-weight:bold;font-size:17px;color:#3a3aae;line-height:20px">018</div>

<div class="t1" id="tl1" style="left:290px;top:164.1px;font-size:17.4px;line-height:17.4px;transform-origin:0 0;transform:scaleX(1.18)">Land of Mystereum Life Mapping</div>
<div class="t1" id="tl2" style="left:290px;top:185.6px;font-size:17.4px;line-height:17.4px;transform-origin:0 0;transform:scaleX(1.18)">The "Sacred Adornment" Spread</div>
<div class="t1" id="tl3" style="left:256.5px;top:204.6px;-webkit-text-stroke:0.45px #000;font-size:10.4px;line-height:10.4px;transform-origin:0 0;transform:scaleX(1.162)">. . . a spread for seeing the benefits of your sacred adornments.</div>

<div class="abs" style="left:745.3px;top:542.5px;transform-origin:0 0;transform:rotate(-90deg) scaleX(1.2);font-weight:bold;font-size:10.4px;white-space:nowrap;line-height:10px;-webkit-text-stroke:0.3px #000"><span style="color:#666;-webkit-text-stroke:0;margin-right:1.6px">©</span>2012 Jordan Hoggard</div>

<div class="q"><div>Card 1 ~ What focuses your sacred adornments?</div><div>Card 2 ~ What nourishes your sacred adornments?</div><div>Card 3 ~ How do you your sacred adornments enhance</div><div class="ind">your well-being?</div><div>Card 4 ~ How well do smells sacredly adorn your senses?</div><div>Card 5 ~ How well do you wear times of not-knowing?</div><div>Card 6 ~ What inner inheritance of personality were you</div><div class="ind">born with you can wear with pride?</div></div>

<!-- card backs -->
<div class="cb" style="left:149px;top:254px"><div class="fr"></div><div class="mid"></div><div class="orn top"></div><div class="orn bot"></div><div class="bar"></div><div class="dots"></div><div class="n" style="transform:none">1</div></div>
<div class="cb" style="left:668px;top:254.5px"><div class="fr"></div><div class="mid"></div><div class="orn top"></div><div class="orn bot"></div><div class="bar"></div><div class="dots" style="left:8.5px"></div><div class="n">2</div></div>
<div class="cb" style="left:149px;top:569.5px"><div class="fr"></div><div class="mid"></div><div class="orn top"></div><div class="orn bot"></div><div class="bar"></div><div class="dots"></div><div class="n">3</div></div>
<div class="cb" style="left:667.5px;top:697.2px"><div class="fr"></div><div class="mid"></div><div class="orn top"></div><div class="orn bot"></div><div class="bar"></div><div class="dots" style="left:8.5px"></div><div class="n">4</div></div>
<div class="cb" style="left:149px;top:716.5px"><div class="fr"></div><div class="mid"></div><div class="orn top"></div><div class="orn bot"></div><div class="bar"></div><div class="dots"></div><div class="n">5</div></div>
<div class="cb" style="left:667.5px;top:562px"><div class="fr"></div><div class="mid"></div><div class="orn top"></div><div class="orn bot"></div><div class="bar"></div><div class="dots" style="left:8.5px"></div><div class="n">6</div></div>

<!-- card images -->
<div class="ci" id="i1" style="left:86.5px;top:302.8px;background:radial-gradient(ellipse 32% 9% at 12% 96%,#e8386c 0,rgba(232,56,108,0) 100%),radial-gradient(ellipse 30% 14% at 22% 74%,#3a1c14 0,rgba(58,28,20,0.7) 50%,rgba(58,28,20,0) 100%),radial-gradient(ellipse 18% 10% at 42% 74%,#2a5a30 0,rgba(42,90,48,0) 100%),radial-gradient(ellipse 12% 8% at 45% 48%,#9090d8 0,rgba(144,144,216,0) 100%),radial-gradient(ellipse 45% 14% at 35% 58%,#3428c8 0,#3a28b0 45%,rgba(58,40,176,0) 100%),radial-gradient(ellipse 42% 12% at 45% 34%,#b8702c 0,rgba(184,112,44,0.6) 55%,rgba(184,112,44,0) 100%),radial-gradient(ellipse 62% 42% at 60% 42%,#d01820 0,#c81422 55%,rgba(170,16,40,0) 100%),radial-gradient(ellipse 40% 14% at 65% 90%,#5a20a8 0,rgba(90,32,168,0) 100%),radial-gradient(ellipse 30% 10% at 40% 88%,#304878 0,rgba(48,72,120,0) 100%),linear-gradient(180deg,#08040c 0,#140818 12%,#3a1048 40%,#3a1a70 70%,#38208a 100%)"></div>
<div class="ci" id="i2" style="left:737px;top:302.4px;background:radial-gradient(ellipse 34% 2.5% at 42% 79%,rgba(232,228,186,0.95) 0,rgba(232,228,186,0) 100%),radial-gradient(ellipse 28% 2.2% at 58% 90%,rgba(222,222,170,0.9) 0,rgba(222,222,170,0) 100%),radial-gradient(ellipse 34% 3% at 30% 62%,rgba(236,232,200,0.95) 0,rgba(236,232,200,0) 100%),radial-gradient(ellipse 22% 2% at 20% 70%,rgba(200,210,200,0.8) 0,rgba(200,210,200,0) 100%),radial-gradient(ellipse 48% 22% at 22% 84%,#1a2a9c 0,#1c2c98 55%,rgba(28,44,152,0) 100%),radial-gradient(ellipse 40% 10% at 52% 74%,#2636a8 0,rgba(38,54,168,0) 100%),radial-gradient(ellipse 36% 5% at 15% 48%,#5242a4 0,rgba(82,66,164,0) 100%),radial-gradient(ellipse 30% 3.5% at 12% 55%,#2232a4 0,rgba(34,50,164,0) 100%),radial-gradient(ellipse 10% 7% at 50% 45%,#f0c040 0,rgba(240,192,64,0) 100%),radial-gradient(ellipse 30% 10% at 72% 56%,#f6eea4 0,rgba(246,238,164,0) 100%),radial-gradient(ellipse 11% 7% at 88% 58%,#f8e030 0,rgba(248,224,48,0) 100%),radial-gradient(ellipse 4% 9% at 47% 20%,#e06878 0,rgba(224,104,120,0) 100%),radial-gradient(ellipse 8% 7% at 70% 22%,#f07850 0,rgba(240,120,80,0) 100%),radial-gradient(ellipse 15% 12% at 17% 14%,#3a8a7c 0,rgba(58,138,124,0) 100%),linear-gradient(180deg,#c8c0aa 0,#e0d6b4 12%,#e8deb6 40%,#ece6b4 60%,#d8dca4 100%)"></div>
<div class="ci" id="i3" style="left:86.3px;top:581.7px;background:#402010"><svg width="79" height="121" viewBox="0 0 79 121" style="position:absolute;left:0;top:0">
<defs><radialGradient id="c3bg" cx="0.5" cy="0.5" r="0.72"><stop offset="0" stop-color="#f0a038"/><stop offset="0.5" stop-color="#d47820"/><stop offset="0.82" stop-color="#8a3a10"/><stop offset="1" stop-color="#2a0e04"/></radialGradient>
<filter id="c3b6" x="-50%" y="-50%" width="200%" height="200%"><feGaussianBlur stdDeviation="6"/></filter><filter id="c3b2" x="-20%" y="-20%" width="140%" height="140%"><feGaussianBlur stdDeviation="1.6"/></filter></defs>
<rect width="79" height="121" fill="url(#c3bg)"/>
<ellipse cx="14" cy="24" rx="14" ry="18" fill="#e8b048" filter="url(#c3b6)"/><path d="M4 14 C12 8 20 6 30 10 M2 22 C10 16 18 14 26 18" stroke="#f0d070" stroke-width="1.4" fill="none" opacity="0.8"/>
<ellipse cx="70" cy="50" rx="18" ry="22" fill="#fcf060" filter="url(#c3b6)"/>
<ellipse cx="12" cy="68" rx="12" ry="28" fill="#e08a2c" filter="url(#c3b6)" opacity="0.85"/><ellipse cx="64" cy="86" rx="12" ry="14" fill="#d07828" filter="url(#c3b6)" opacity="0.8"/>
<g filter="url(#c3b2)">
<path d="M18 14 L28 11 L38 18 L48 24 L58 27 L64 34 L58 44 L62 56 L57 66 L50 60 L44 55 L36 58 L30 53 L33 46 L26 39 L22 28 Z" fill="#241c2e"/>
<ellipse cx="28" cy="20" rx="8" ry="6" fill="#4a5468"/>
<ellipse cx="40" cy="30" rx="8" ry="6" fill="#5a2a68"/>
<path d="M50 30 L64 36 L60 48 L50 44 Z" fill="#4a8088"/>
<path d="M22 66 L34 61 L44 70 L47 86 L42 104 L30 109 L20 96 L18 80 Z" fill="#d82814"/>
<ellipse cx="30" cy="72" rx="5" ry="3" fill="#301010"/>
<ellipse cx="40" cy="80" rx="4" ry="3" fill="#401410"/>
</g></svg></div>
<div class="ci" id="i4" style="left:737px;top:741px;background:#c8d0a8"><svg width="79" height="121" viewBox="0 0 79 121" style="position:absolute;left:0;top:0">
<defs><filter id="c4b4" x="-50%" y="-50%" width="200%" height="200%"><feGaussianBlur stdDeviation="4"/></filter><filter id="c4b2" x="-30%" y="-30%" width="160%" height="160%"><feGaussianBlur stdDeviation="1.6"/></filter>
<linearGradient id="c4bg" x1="0" y1="0" x2="0" y2="1"><stop offset="0" stop-color="#0a1020"/><stop offset="0.05" stop-color="#142030"/><stop offset="0.16" stop-color="#5a6858"/><stop offset="0.22" stop-color="#ccd2a8"/><stop offset="0.4" stop-color="#d8dcb2"/><stop offset="0.5" stop-color="#c8d4aa"/><stop offset="0.58" stop-color="#88c0a8"/><stop offset="0.7" stop-color="#38a898"/><stop offset="1" stop-color="#2a9a8c"/></linearGradient></defs>
<rect width="79" height="121" fill="url(#c4bg)"/>
<g filter="url(#c4b2)">
<ellipse cx="30" cy="10" rx="8" ry="4" fill="#d8d8b4"/><ellipse cx="10" cy="14" rx="6" ry="3" fill="#c8ccb0"/><ellipse cx="50" cy="14" rx="7" ry="3" fill="#b8c0a8"/>
<path d="M64 8 L79 8 L79 40 L72 34 L70 22 Z" fill="#142030"/>
<ellipse cx="60" cy="30" rx="10" ry="6" fill="#c0c8a4"/>
<path d="M0 88 C20 74 45 66 79 60 L79 70 C50 76 25 84 0 98 Z" fill="#38c4b0"/>
<path d="M20 76 C32 70 44 66 58 63 L56 67 C44 70 32 74 22 80 Z" fill="#0e2434"/>
<path d="M4 104 C16 94 30 88 46 84 L44 92 C30 96 18 104 8 112 Z" fill="#0e2a3c"/>
<path d="M40 96 C48 92 56 90 62 92 L58 112 C50 110 44 106 40 100 Z" fill="#103040"/>
</g>
<ellipse cx="70" cy="90" rx="12" ry="26" fill="#b8d8a8" filter="url(#c4b4)"/>
<ellipse cx="62" cy="52" rx="14" ry="5" fill="#48aca0" filter="url(#c4b4)" opacity="0.8"/>
</svg></div>
<div class="ci" id="i5" style="left:86.3px;top:741px;background:radial-gradient(ellipse 14% 12% at 12% 56%,#805040 0,rgba(128,80,64,0) 100%),radial-gradient(ellipse 8% 5% at 80% 90%,#b0b0c0 0,rgba(176,176,192,0) 100%),radial-gradient(ellipse 30% 20% at 96% 96%,#3e1c14 0,#4a2418 50%,rgba(74,36,24,0) 100%),radial-gradient(ellipse 30% 30% at 88% 25%,#28306e 0,rgba(40,48,110,0) 100%),radial-gradient(ellipse 25% 22% at 50% 55%,#3c5270 0,rgba(60,82,112,0) 100%),radial-gradient(ellipse 25% 15% at 20% 15%,#8a90c0 0,rgba(138,144,192,0) 100%),linear-gradient(180deg,#5664a4 0,#6674ae 40%,#6c7ab4 70%,#5a68a6 100%)"><svg width="79" height="121" viewBox="0 0 79 121" style="position:absolute;left:0;top:0"><g fill="none" stroke="#a8d0f4" stroke-width="1.6" opacity="0.8" stroke-linecap="round">
<path d="M30 30 Q44 16 58 30"/><path d="M22 46 Q36 30 56 42"/><path d="M14 59 Q28 44 48 55"/><path d="M12 71 Q26 57 46 66"/><path d="M15 84 Q26 70 42 78"/><path d="M32 64 Q48 54 60 74"/><path d="M36 50 Q50 42 62 56"/></g></svg></div>
<div class="ci" id="i6" style="left:737.2px;top:581.6px;background:#402010"><svg width="79" height="121" viewBox="0 0 79 121" style="position:absolute;left:0;top:0">
<defs><radialGradient id="c6bg" cx="0.45" cy="0.52" r="0.62"><stop offset="0" stop-color="#e8dcc8"/><stop offset="0.45" stop-color="#c89868"/><stop offset="0.78" stop-color="#6a2a10"/><stop offset="1" stop-color="#1a0602"/></radialGradient>
<filter id="c6b6" x="-50%" y="-50%" width="200%" height="200%"><feGaussianBlur stdDeviation="5"/></filter><filter id="c6b2" x="-30%" y="-30%" width="160%" height="160%"><feGaussianBlur stdDeviation="1.3"/></filter></defs>
<rect width="79" height="121" fill="url(#c6bg)"/>
<ellipse cx="12" cy="26" rx="11" ry="18" fill="#f09028" filter="url(#c6b6)"/>
<ellipse cx="24" cy="78" rx="15" ry="22" fill="#f6f2ec" filter="url(#c6b6)"/>
<ellipse cx="60" cy="60" rx="9" ry="16" fill="#eee4d4" filter="url(#c6b6)"/>
<ellipse cx="46" cy="86" rx="10" ry="10" fill="#e8dccc" filter="url(#c6b6)"/>
<ellipse cx="40" cy="36" rx="22" ry="15" fill="#58b048" filter="url(#c6b2)"/>
<ellipse cx="34" cy="30" rx="10" ry="8" fill="#80c868" filter="url(#c6b2)"/>
<ellipse cx="50" cy="42" rx="8" ry="6" fill="#a8c890" filter="url(#c6b2)"/>
<g stroke="#a85830" stroke-width="1.8" fill="none" filter="url(#c6b2)"><path d="M40 48 L38 70 L40 104"/><path d="M38 60 L28 75"/><path d="M40 58 L52 72"/><path d="M39 80 L30 92"/><path d="M40 84 L50 96"/></g>
<g filter="url(#c6b2)">
<circle cx="37.5" cy="17.3" r="5" fill="#c8ccc0"/><circle cx="22.2" cy="39.5" r="4.5" fill="#3c3048"/><circle cx="53.3" cy="38.2" r="5.5" fill="#bcc0b4"/>
<circle cx="40.6" cy="70.6" r="4" fill="#2c2030"/><circle cx="27.3" cy="79.5" r="4" fill="#e04818"/><circle cx="56.5" cy="78.3" r="4.5" fill="#f0d020"/>
<circle cx="57.2" cy="92.2" r="5" fill="#502058"/><circle cx="37.5" cy="107.5" r="5.5" fill="#c02020"/></g>
</svg></div>
</body></html>
